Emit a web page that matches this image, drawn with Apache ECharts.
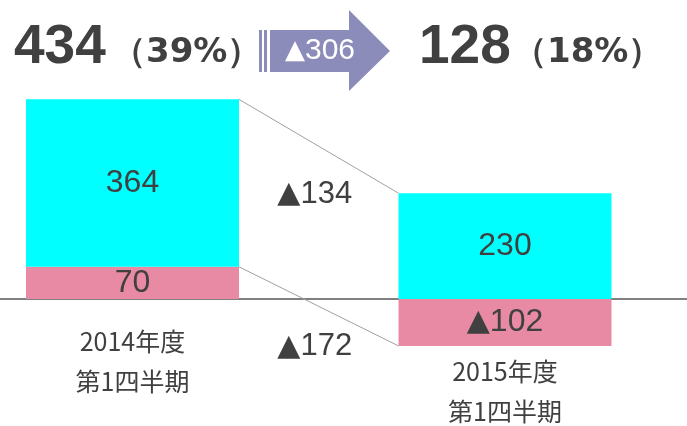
<!DOCTYPE html>
<html>
<head>
<meta charset="utf-8">
<script src="https://cdn.jsdelivr.net/npm/echarts@6/dist/echarts.min.js"></script>
<style>
html, body { margin: 0; padding: 0; background: #fff; }
#main { width: 687px; height: 426px; }
</style>
</head>
<body>
<div id="main"></div>
<script>
var categories = ['2014年度\n第1四半期', '2015年度\n第1四半期'];
var pinkValues = [70, -102];
var cyanValues = [364, 230];
var totals = ['434', '128'];
var shares = ['（39%）', '（18%）'];
var totalChange = 306;
var cyanDiff = [134, 228];
var pinkDiff = [172, -104];

var myChart = echarts.init(document.getElementById('main'));

function fmtVal(v) {
    return v < 0 ? '{t|▲}' + Math.abs(v) : String(v);
}

var tri = { fontFamily: 'DejaVu Sans', fontSize: 30, color: '#404040' };

var labelStyle = {
    show: true,
    position: 'inside',
    fontFamily: 'Liberation Sans',
    fontSize: 32,
    color: '#404040',
    formatter: function (p) { return fmtVal(p.value); },
    rich: { t: tri }
};

var option = {
    animation: false,
    grid: [
        { left: 132.5, right: 182, top: 69, bottom: 12, outerBoundsMode: 'none' },
        { left: 0, right: 0, top: 69, bottom: 12, outerBoundsMode: 'none' }
    ],
    xAxis: [
        {
            type: 'category',
            gridIndex: 0,
            boundaryGap: false,
            data: categories,
            axisTick: { show: false },
            axisLine: { show: false, onZero: false },
            axisLabel: {
                margin: -93,
                formatter: function (v, i) {
                    var parts = v.split('\n');
                    var s = '{a|' + parts[0] + '}\n{a|' + parts[1] + '}';
                    if (i === 1) s = '{s| }\n' + s;
                    return s;
                },
                rich: {
                    a: { fontFamily: 'Noto Sans CJK JP', fontSize: 25, lineHeight: 40, color: '#404040' },
                    s: { fontSize: 10, lineHeight: 30 }
                }
            }
        },
        {
            type: 'value',
            gridIndex: 1,
            min: 0,
            max: 1,
            splitLine: { show: false },
            axisTick: { show: false },
            axisLabel: { show: false },
            axisLine: { onZero: true, lineStyle: { color: '#808080', width: 2 } }
        }
    ],
    yAxis: [
        { type: 'value', gridIndex: 0, min: -250, max: 500, show: false },
        { type: 'value', gridIndex: 1, min: -250, max: 500, show: false }
    ],
    series: [
        {
            name: 'pink',
            type: 'bar',
            stack: 'a',
            barWidth: 213,
            itemStyle: { color: '#E88AA4' },
            label: labelStyle,
            data: pinkValues
        },
        {
            name: 'cyan',
            type: 'bar',
            stack: 'a',
            barWidth: 213,
            itemStyle: { color: '#00FFFF' },
            label: labelStyle,
            data: cyanValues
        }
    ]
};
myChart.setOption(option);

// connector lines and difference labels, positioned through the axes
var half = 213 / 2;
var top0 = myChart.convertToPixel({ gridIndex: 0 }, [0, pinkValues[0] + cyanValues[0]]);
var top1 = myChart.convertToPixel({ gridIndex: 0 }, [1, cyanValues[1]]);
var mid0 = myChart.convertToPixel({ gridIndex: 0 }, [0, pinkValues[0]]);
var bot1 = myChart.convertToPixel({ gridIndex: 0 }, [1, pinkValues[1]]);
var d1y = myChart.convertToPixel({ yAxisIndex: 0 }, cyanDiff[1]);
var d2y = myChart.convertToPixel({ yAxisIndex: 0 }, pinkDiff[1]);
var midX = (top0[0] + top1[0]) / 2 - 4;

var titleFont = 'bold 55px "Liberation Sans"';
var shareFont = 'bold 34px "DejaVu Sans"';
var arrowColor = '#8C8CBA';

function diffText(x, y, v) {
    return {
        type: 'text', x: x, y: y,
        style: {
            text: '{t|▲}' + v, font: '31px "Liberation Sans"', fill: '#404040',
            align: 'center', verticalAlign: 'middle', rich: { t: tri }
        }
    };
}

myChart.setOption({
    graphic: [
        { type: 'line', shape: { x1: top0[0] + half, y1: top0[1], x2: top1[0] - half, y2: top1[1] }, style: { stroke: '#A0A0A0', lineWidth: 1 }, z: 5 },
        { type: 'line', shape: { x1: mid0[0] + half, y1: mid0[1], x2: bot1[0] - half, y2: bot1[1] }, style: { stroke: '#A0A0A0', lineWidth: 1 }, z: 5 },
        diffText(midX, d1y, cyanDiff[0]),
        diffText(midX, d2y, pinkDiff[0]),
        { type: 'text', x: 14, y: 48, style: { text: totals[0], font: titleFont, fill: '#404040', verticalAlign: 'middle' } },
        { type: 'text', x: 112, y: 53, style: { text: shares[0], font: shareFont, fill: '#404040', verticalAlign: 'middle' } },
        { type: 'text', x: 419, y: 48, style: { text: totals[1], font: titleFont, fill: '#404040', verticalAlign: 'middle' } },
        { type: 'text', x: 513, y: 53, style: { text: shares[1], font: shareFont, fill: '#404040', verticalAlign: 'middle' } },
        { type: 'rect', shape: { x: 259, y: 30, width: 3, height: 42 }, style: { fill: arrowColor } },
        { type: 'rect', shape: { x: 264, y: 30, width: 3, height: 42 }, style: { fill: arrowColor } },
        { type: 'polygon', shape: { points: [[270, 30], [349, 30], [349, 10], [390, 51], [349, 91], [349, 72], [270, 72]] }, style: { fill: arrowColor } },
        {
            type: 'text', x: 320, y: 51,
            style: {
                text: '{w|▲}' + totalChange, font: '30px "Liberation Sans"', fill: '#fff',
                align: 'center', verticalAlign: 'middle',
                rich: { w: { fontFamily: 'DejaVu Sans', fontSize: 26, color: '#fff' } }
            }
        }
    ]
});

window.onresize = function () {
    myChart.resize();
};
</script>
</body>
</html>
